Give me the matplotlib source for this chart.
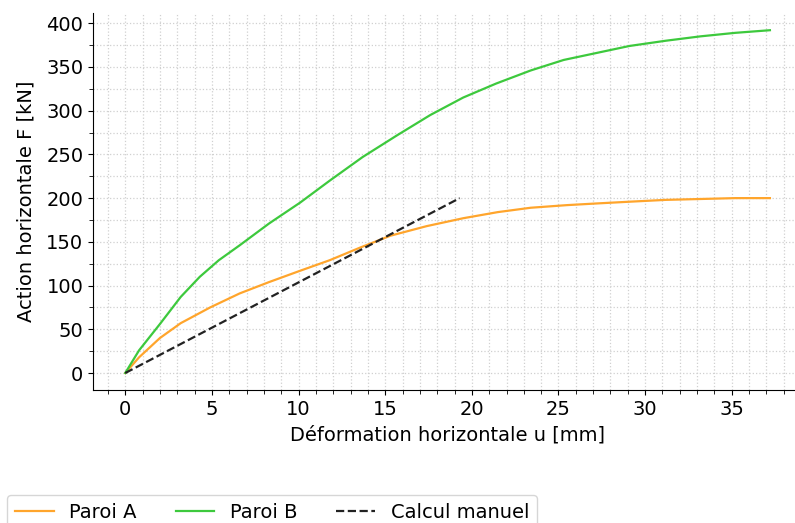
import matplotlib
matplotlib.use('Agg')
import matplotlib.pyplot as plt
from matplotlib.ticker import MultipleLocator

# Courbes force-déplacement

u_a = [0, 0.8, 2.0, 3.2, 4.9, 6.6, 8.3, 10.1, 11.8, 13.5, 15.3, 17.4, 19.5, 21.5, 23.4, 25.5, 27.3, 29.2, 31.2, 33.2, 35.2, 37.2]
f_a = [0, 18, 40, 57, 75, 91, 104, 117, 129, 143, 157, 168, 177, 184, 189, 192, 194, 196, 198, 199, 200, 200]

u_b = [0, 0.8, 2.0, 3.2, 4.3, 5.4, 6.6, 8.3, 10.1, 11.8, 13.7, 15.7, 17.6, 19.5, 21.4, 23.4, 25.3, 27.2, 29.1, 31.2, 33.2, 35.2, 37.2]
f_b = [0, 26, 56, 87, 110, 129, 146, 171, 195, 220, 247, 272, 295, 315, 331, 346, 358, 366, 374, 380, 385, 389, 392]

u_calc = [0, 19.3]
f_calc = [0, 200]

fig = plt.figure(figsize=(7.95, 5.23), dpi=100)
ax = fig.add_axes([0.117, 0.254, 0.892, 0.721])

ax.plot(u_a, f_a, color='#FFA52C', lw=1.6, label='Paroi A')
ax.plot(u_b, f_b, color='#3DC93D', lw=1.6, label='Paroi B')
ax.plot(u_calc, f_calc, color='#222222', lw=1.6, ls='--', label='Calcul manuel')

ax.set_xlim(-1.86, 39.06)
ax.set_ylim(-19.6, 411.6)
ax.xaxis.set_major_locator(MultipleLocator(5))
ax.xaxis.set_minor_locator(MultipleLocator(1))
ax.yaxis.set_major_locator(MultipleLocator(50))
ax.yaxis.set_minor_locator(MultipleLocator(25))

ax.grid(which='both', ls=':', color='#d0d0d0', lw=0.9)
ax.set_axisbelow(True)
ax.spines['top'].set_visible(False)
ax.spines['right'].set_visible(False)
ax.tick_params(labelsize=14)
ax.tick_params(which='minor', length=3)

ax.set_xlabel('Déformation horizontale u [mm]', fontsize=14, labelpad=5)
ax.set_ylabel('Action horizontale F [kN]', fontsize=14, labelpad=8)

# légende sous le graphique, coupée par le bas de l'image
fig.legend(loc='upper left', bbox_to_anchor=(7 / 795, 1 - 495 / 523), ncol=3, fontsize=14,
           frameon=True, fancybox=True, borderaxespad=0.0)

fig.savefig('out.png', dpi=100)
